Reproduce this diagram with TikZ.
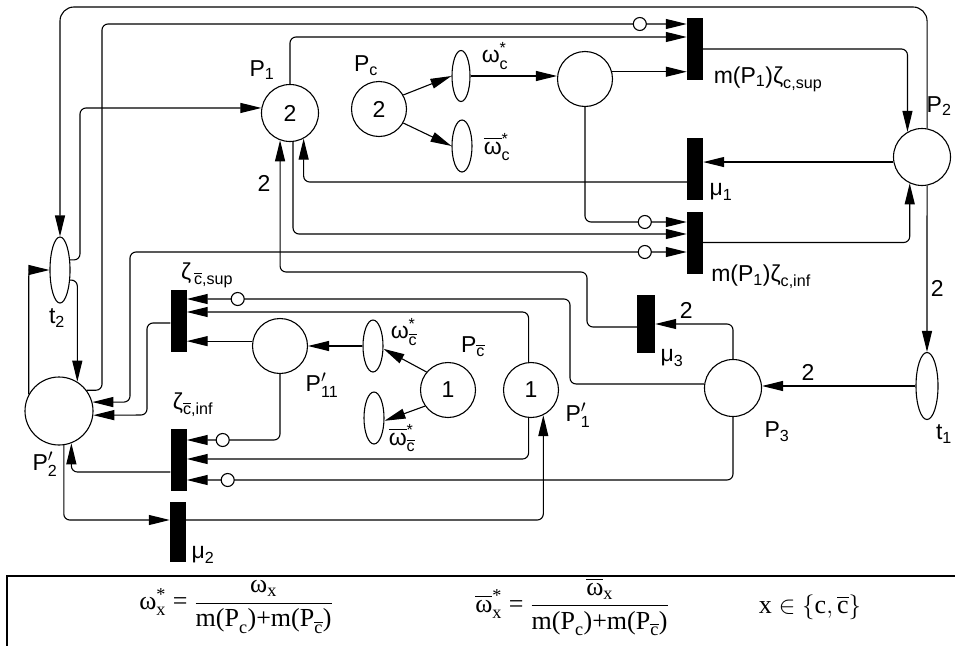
\documentclass[tikz,border=0pt]{standalone}
\usepackage{amsmath}
\usepackage{fontspec}
\setmainfont{Liberation Sans}
\newfontfamily\tnr{Liberation Serif}
\usetikzlibrary{arrows.meta,shapes.geometric,decorations.markings}

\newcommand{\lbl}[2]{$\text{#1}_{\text{#2}}$}
\newcommand{\sertx}[1]{\text{\tnr #1}}

\tikzset{
  place/.style={circle, draw, line width=1.1pt, minimum size=55pt, inner sep=0pt},
  tran/.style={ellipse, draw, line width=1.1pt, minimum width=20pt, minimum height=52pt, inner sep=0pt},
  bar/.style={fill=black, minimum width=16pt, minimum height=62pt, inner sep=0pt},
  arc/.style={line width=1.1pt, rounded corners=6pt, -{Triangle[length=21pt,width=10pt]}},
  dblarc/.style={line width=1.1pt, rounded corners=6pt,
    {Triangle[length=21pt,width=10pt]}-{Triangle[length=21pt,width=10pt]}},
  inh/.style={postaction={decorate, decoration={markings,
    mark=at position -#1 with {\draw[line width=1.1pt, fill=white] (0,0) circle (6.5pt);}}}}
}

\begin{document}
\begin{tikzpicture}[x=1pt, y=-1pt, font=\fontsize{23}{27}\selectfont]
\useasboundingbox (0,0) rectangle (955,645);

% --- places ---
\node[place, minimum size=57pt] (P1) at (290,113) {2};
\node[place] (Pc) at (379,109) {2};
\node[place] (Q) at (585,79) {};
\node[place, minimum size=57pt] (P2) at (922,157) {};
\node[place, minimum size=57pt] (P3) at (733,388) {};
\node[place] (P1p) at (531,390) {1};
\node[place] (Pcb) at (448,390) {1};
\node[place] (P11) at (280,346) {};
\node[place, minimum size=68pt] (P2p) at (59,411) {};

% --- timed transitions ---
\node[tran, minimum width=18pt, minimum height=51pt] (Ewc) at (461,76) {};
\node[tran] (Evc) at (462,146) {};
\node[tran] (Ewcb) at (373,346) {};
\node[tran] (Evcb) at (374,418) {};
\node[tran, minimum height=66pt] (t2) at (60,270) {};
\node[tran, minimum width=22pt, minimum height=67pt] (t1) at (927,386) {};

% --- bars ---
\node[bar] (bsup) at (695,49) {};
\node[bar] (bmu1) at (695,169) {};
\node[bar] (binf) at (695,242.5) {};
\node[bar, minimum width=18pt, minimum height=58pt] (bmu3) at (646,324) {};
\node[bar] (bzsup) at (178.5,321) {};
\node[bar] (bzinf) at (178.5,459.5) {};
\node[bar, minimum height=60pt] (bmu2) at (178,532) {};

% --- labels ---
\node (lP1) at (262,70) {\lbl{P}{1}};
\node (lPc) at (366,66) {\lbl{P}{c}};
\node[anchor=east] (lP2) at (955,106) {\lbl{P}{2}};
\node (lP3) at (777,432) {\lbl{P}{3}};
\node (lP1p) at (578,415) {$\text{P}'_{\text{1}}$};
\node (lPcb) at (473,347) {$\text{P}_{\overline{\text{c}}}$};
\node (lP11) at (322,385) {$\text{P}'_{\text{11}}$};
\node (lP2p) at (45,464) {$\text{P}'_{\text{2}}$};
\node (lt1) at (944,434) {\lbl{t}{1}};
\node (lt2) at (57,318) {\lbl{t}{2}};
\node (lwc) at (495,56) {$\text{ω}^{\text{*}}_{\text{c}}$};
\node (lvc) at (497,147) {$\overline{\text{ω}}^{\text{*}}_{\text{c}}$};
\node (lwcb) at (404,332) {$\text{ω}^{\text{*}}_{\overline{\text{c}}}$};
\node (lvcb) at (402,438) {$\overline{\text{ω}}^{\text{*}}_{\overline{\text{c}}}$};
\node (lsup) at (768,79) {m(\lbl{P}{1})$\text{ζ}_{\text{c,sup}}$};
\node (lmu1) at (721,192) {\lbl{μ}{1}};
\node (linf) at (761,277) {m(\lbl{P}{1})$\text{ζ}_{\text{c,inf}}$};
\node (lmu3) at (672,358) {\lbl{μ}{3}};
\node (lzsup) at (207,275) {$\text{ζ}_{\,\overline{\text{c}}\text{,sup}}$};
\node (lzinf) at (193,405) {$\text{ζ}_{\overline{\text{c}}\text{,inf}}$};
\node (lmu2) at (203,555) {\lbl{μ}{2}};
\node (w1) at (264,183) {2};

% --- arcs ---
\draw[arc, rounded corners=14pt] (P2.80) |- (t2.north |- 0,7) -- (t2.north);
\draw[arc, inh=47pt] (P2p.37) -| (102,24) -- (bsup.west |- 0,24);
\draw[arc] (P1.north) |- (bsup.west |- 0,37);
\draw[arc] (Q.15) -- (bsup.west |- Q.15);
\draw[arc] (Ewc.east) -- (Q.west |- Ewc.east);
\draw[arc] (Pc.30) -- (Ewc.west);
\draw[arc] (Pc.-30) -- (Evc.west);
\draw[arc] (bsup.east) -| (P2.120);
\draw[arc] (P2.190) -- (bmu1.east |- P2.190);
\draw[arc] (bmu1.west |- 0,182) -| (P1.-62);
\draw[arc] (binf.east) -| (P2.-115);
\draw[arc] (P2.-80) -- node[right, pos=0.62] {2} (t1.north);
\draw[arc] (t1.west) -- node[above=2pt, pos=0.7] {2} (P3.east |- t1.west);
\draw[arc] (P3.north) |- node[above=2pt, pos=0.8] {2} (bmu3.east);
\draw[arc] (bmu3.west |- 0,327) -| (587,272) -| (P1.-110);
\draw[arc, inh=42pt] (Q.south) |- (binf.west |- 0,222);
\draw[arc] (P1.-84) |- (binf.west |- 0,234);
\draw[dblarc, inh=42pt] (P2p.15) -| (130,252) -- (binf.west |- 0,252);
\draw[arc] (bzsup.west |- 0,323) -| (147,415) -- (P2p.-7);
\draw[arc, inh=51pt] (P3.172) -| (570,299) -- (bzsup.east |- 0,299);
\draw[arc] (P1p.95) |- (bzsup.east |- 0,312);
\draw[arc] (P11.170) -- (bzsup.east |- P11.170);
\draw[arc] (Ewcb.west) -- (P11.east);
\draw[arc] (Pcb.140) -- (Ewcb.-15);
\draw[arc] (Pcb.215) -- (Evcb.-15);
\draw[arc, inh=36pt] (P11.south) |- (bzinf.east |- 0,440);
\draw[arc] (P1p.-95) |- (bzinf.east |- 0,459);
\draw[arc, inh=41pt] (P3.south) |- (bzinf.east |- 0,480);
\draw[arc] (bzinf.west |- 0,472) -| (P2p.-69);
\draw[arc] (P2p.-82) |- (bmu2.west |- 0,520);
\draw[arc] (bmu2.east |- 0,520) -| (P1p.-64);
\draw[arc] (P2p.151) |- (t2.west);
\draw[arc] (t2.-45) -| (P2p.58);
\draw[arc] (t2.45) -| (80,108) -- (P1.170);

% --- legend box ---
\draw[line width=2pt] (7,576) rectangle (962,652);
\begin{scope}[font=\fontsize{26}{31}\selectfont]
\node (f1) at (236,607) {$\sertx{ω}^{\sertx{*}}_{\sertx{x}}\;\sertx{=}\;\dfrac{\sertx{ω}_{\sertx{x}}}{\sertx{m(P}_{\sertx{c}}\sertx{)+m(P}_{\overline{\sertx{c}}}\sertx{)}}$};
\node (f2) at (572,607) {$\overline{\sertx{ω}}^{\sertx{*}}_{\sertx{x}}\;\sertx{=}\;\dfrac{\overline{\sertx{ω}}_{\sertx{x}}}{\sertx{m(P}_{\sertx{c}}\sertx{)+m(P}_{\overline{\sertx{c}}}\sertx{)}}$};
\node (f3) at (810,607) {$\sertx{x}\in\{\sertx{c},\overline{\sertx{c}}\}$};
\end{scope}
\end{tikzpicture}
\end{document}
